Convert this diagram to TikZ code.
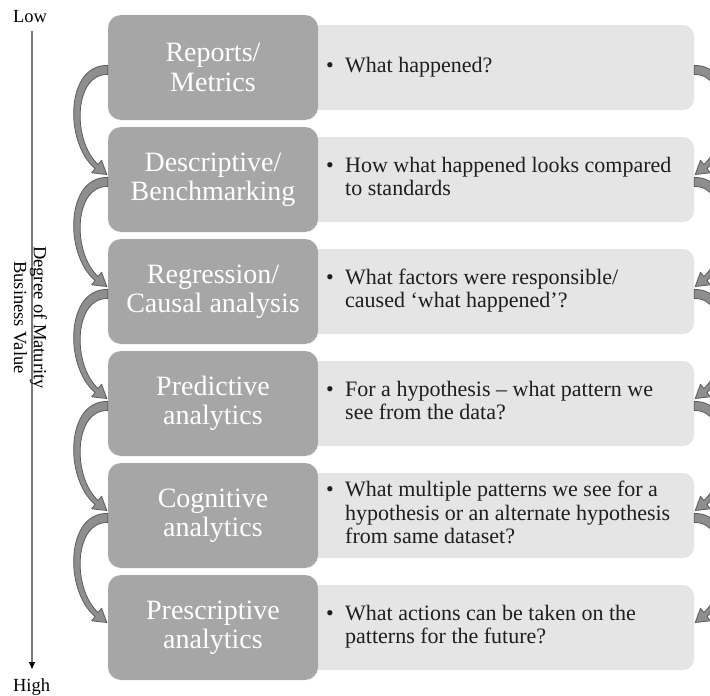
\documentclass[tikz,border=0pt]{standalone}
\usepackage{fontspec}
\setmainfont{Liberation Serif}
\usetikzlibrary{arrows.meta,calc}

\definecolor{boxdark}{HTML}{A6A6A6}
\definecolor{boxlight}{HTML}{E5E5E5}
\definecolor{bendfill}{HTML}{8E8E8E}
\definecolor{bendline}{HTML}{5C5C5C}
\definecolor{bodytext}{HTML}{1E1E1E}
\definecolor{axisgray}{HTML}{7A7A7A}

\tikzset{
  darkbox/.style={rectangle, rounded corners=13pt, fill=boxdark,
    minimum width=210pt, minimum height=105pt, inner sep=0pt,
    text=white, align=center, font=\fontsize{28}{29.5}\selectfont},
  lightbox/.style={rectangle, rounded corners=11pt, fill=boxlight,
    minimum width=394pt, minimum height=85pt, inner sep=0pt},
  bullettext/.style={anchor=west, inner sep=0pt, text=bodytext,
    font=\fontsize{22}{23.5}\selectfont},
  sidelabel/.style={inner sep=0pt, text=black, font=\fontsize{18.5}{20}\selectfont},
  bendarrow/.style={fill=bendfill, draw=bendline, line width=0.8pt, line join=round},
  axisline/.style={draw=axisgray, line width=1.2pt,
    -{Triangle[length=7pt,width=6pt,color=black]}}
}

% curved block arrow on the left, from box #1 down to box #2
\newcommand\leftbend[2]{%
  \filldraw[bendarrow]
    ($(#1.west)+(0,-2)$)
      .. controls ($(#1.west)+(-42,-3.5)$) and ($(#2.west)+(-44,-37.5)$)
      .. ($(#2.west)+(-12.75,-11)$)
    -- ($(#2.west)+(-16.15,-6.7)$)
    -- ($(#2.west)+(-1,-5)$)
    -- ($(#2.west)+(-6.25,-19.3)$)
    -- ($(#2.west)+(-9.65,-15)$)
      .. controls ($(#2.west)+(-36,-39)$) and ($(#1.west)+(-34,6)$)
      .. ($(#1.west)+(0,7)$)
    -- cycle;}

% mirrored block arrow on the right, from panel #1 down to panel #2
\newcommand\rightbend[2]{%
  \filldraw[bendarrow]
    ($(#1.east)+(0,-2)$)
      .. controls ($(#1.east)+(42,-3.5)$) and ($(#2.east)+(44,-37.5)$)
      .. ($(#2.east)+(12.75,-11)$)
    -- ($(#2.east)+(16.15,-6.7)$)
    -- ($(#2.east)+(1,-5)$)
    -- ($(#2.east)+(6.25,-19.3)$)
    -- ($(#2.east)+(9.65,-15)$)
      .. controls ($(#2.east)+(36,-39)$) and ($(#1.east)+(34,6)$)
      .. ($(#1.east)+(0,7)$)
    -- cycle;}

\newcommand\bulletlines[1]{\begin{tabular}{@{}p{19pt}@{}l@{}}\textbullet & #1\end{tabular}}

\begin{document}
\begin{tikzpicture}[x=1pt,y=-1pt]
  \useasboundingbox (0,0) rectangle (710,696);
  \clip (0,0) rectangle (710,696);

  % light description panels
  \foreach \i/\y in {1/67.5,2/179.5,3/291.5,4/403.5,5/515.5,6/627.5}
    \node[lightbox] (l\i) at (497,\y) {};

  % dark stage boxes
  \node[darkbox] (d1) at (213,67.5)  {Reports/\\Metrics};
  \node[darkbox] (d2) at (213,179.5) {Descriptive/\\Benchmarking};
  \node[darkbox] (d3) at (213,291.5) {Regression/\\Causal analysis};
  \node[darkbox] (d4) at (213,403.5) {Predictive\\analytics};
  \node[darkbox] (d5) at (213,515.5) {Cognitive\\analytics};
  \node[darkbox] (d6) at (213,627.5) {Prescriptive\\analytics};

  % descriptions
  \node[bullettext] (t1) at (326,67.5)  {\bulletlines{What happened?}};
  \node[bullettext] (t2) at (326,179.5) {\bulletlines{How what happened looks compared\\ & to standards}};
  \node[bullettext] (t3) at (326,291.5) {\bulletlines{What factors were responsible/\\ & caused ‘what happened’?}};
  \node[bullettext] (t4) at (326,403.5) {\bulletlines{For a hypothesis – what pattern we\\ & see from the data?}};
  \node[bullettext] (t5) at (326,515.5) {\bulletlines{What multiple patterns we see for a\\ & hypothesis or an alternate hypothesis\\ & from same dataset?}};
  \node[bullettext] (t6) at (326,627.5) {\bulletlines{What actions can be taken on the\\ & patterns for the future?}};

  % curved connectors between consecutive stages
  \leftbend{d1}{d2}
  \leftbend{d2}{d3}
  \leftbend{d3}{d4}
  \leftbend{d4}{d5}
  \leftbend{d5}{d6}
  \rightbend{l1}{l2}
  \rightbend{l2}{l3}
  \rightbend{l3}{l4}
  \rightbend{l4}{l5}
  \rightbend{l5}{l6}

  % maturity axis
  \coordinate (atop) at (32,31);
  \coordinate (abot) at (32,669);
  \draw[axisline] (atop) -- (abot);
  \node[sidelabel, anchor=base] (low)  at (30,22)  {Low};
  \node[sidelabel, anchor=base] (high) at (31.5,691) {High};
  \node[sidelabel, anchor=base, rotate=-90] (lab1) at (34,317.5) {Degree of Maturity};
  \node[sidelabel, anchor=base, rotate=-90] (lab2) at (14,317.5) {Business Value};
\end{tikzpicture}
\end{document}
